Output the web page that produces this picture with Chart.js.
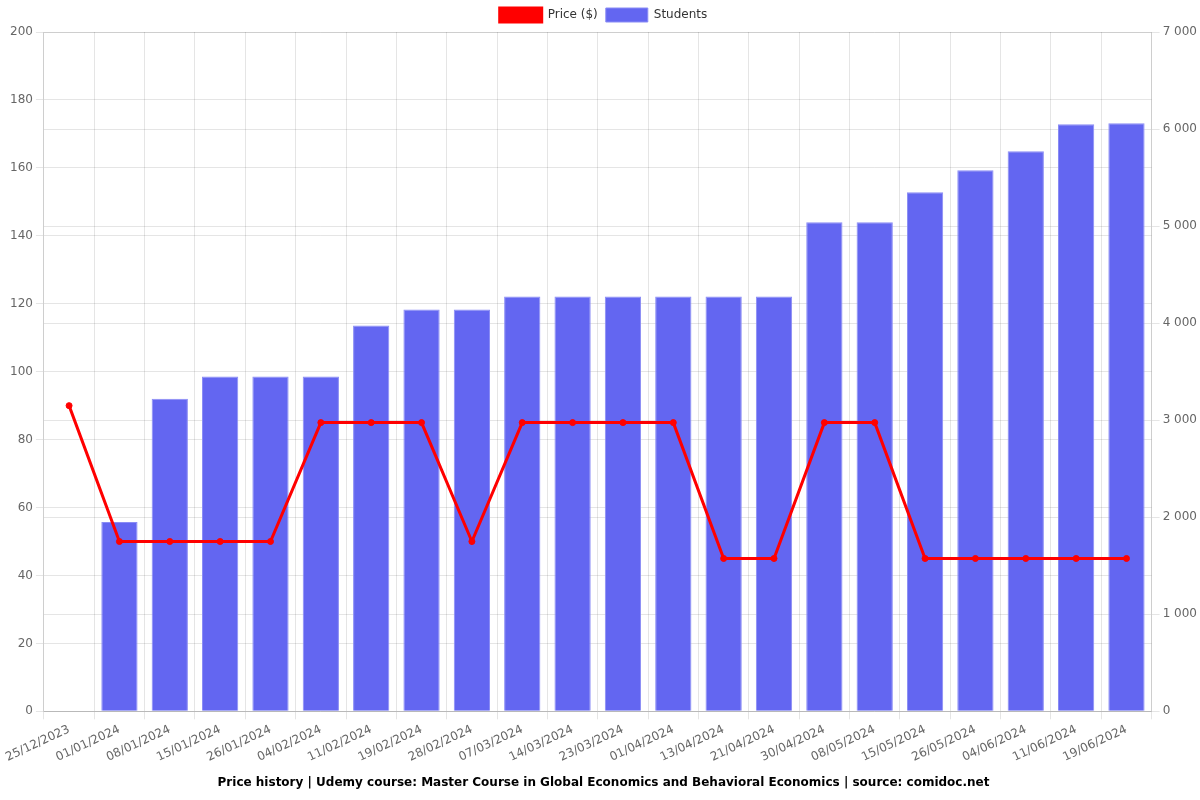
<!DOCTYPE html>
<html>
<head>
<meta charset="utf-8">
<script src="https://cdn.jsdelivr.net/npm/chart.js@4"></script>
<style>
    html, body { margin: 0; padding: 0; background: #fff; }
    #wrap { width: 1200px; height: 800px; }
</style>
</head>
<body>
<div id="wrap"><canvas id="priceChart"></canvas></div>
<script>
const dates = ['25/12/2023', '01/01/2024', '08/01/2024', '15/01/2024', '26/01/2024', '04/02/2024',
    '11/02/2024', '19/02/2024', '28/02/2024', '07/03/2024', '14/03/2024', '23/03/2024', '01/04/2024',
    '13/04/2024', '21/04/2024', '30/04/2024', '08/05/2024', '15/05/2024', '26/05/2024', '04/06/2024',
    '11/06/2024', '19/06/2024'];
const prices = [90, 50, 50, 50, 50, 85, 85, 85, 50, 85, 85, 85, 85, 45, 45, 85, 85, 45, 45, 45, 45, 45];
const students = [null, 1950, 3220, 3450, 3450, 3450, 3975, 4140, 4140, 4275, 4275, 4275, 4275,
    4275, 4275, 5040, 5040, 5350, 5575, 5770, 6050, 6060];

Chart.defaults.font.family = '"DejaVu Sans", sans-serif';
Chart.defaults.font.size = 12;
Chart.defaults.color = '#666';

const fmt = v => String(v).replace(/\B(?=(\d{3})+(?!\d))/g, ' ');

const setupChart = () => {
    const ctx = document.getElementById('priceChart')?.getContext('2d');
    if (!ctx) return;

    new Chart(ctx, {
        data: {
            labels: dates,
            datasets: [{
                type: 'line',
                label: 'Price ($)',
                data: prices,
                yAxisID: 'y',
                borderColor: '#ff0000',
                backgroundColor: '#ff0000',
                borderWidth: 3,
                pointRadius: 3,
                pointBorderWidth: 1,
                tension: 0,
                order: 0
            }, {
                type: 'bar',
                label: 'Students',
                data: students,
                yAxisID: 'y1',
                backgroundColor: '#6366f1',
                borderColor: '#8a8cf5',
                borderWidth: 1,
                order: 1
            }]
        },
        options: {
            responsive: true,
            maintainAspectRatio: false,
            animation: false,
            layout: { padding: { left: 7, right: 0, top: 0, bottom: 4 } },
            plugins: {
                legend: {
                    position: 'top',
                    labels: { boxWidth: 42, boxHeight: 14, color: '#333', padding: 8 }
                },
                title: {
                    display: true,
                    position: 'bottom',
                    text: 'Price history | Udemy course: Master Course in Global Economics and Behavioral Economics | source: comidoc.net',
                    color: '#000',
                    font: { size: 12, weight: 'bold' },
                    padding: { top: 8, bottom: 6 }
                }
            },
            scales: {
                x: {
                    ticks: { maxRotation: 25, minRotation: 25, autoSkip: false }
                },
                y: {
                    position: 'left',
                    min: 0,
                    max: 200,
                    ticks: { stepSize: 20 }
                },
                y1: {
                    position: 'right',
                    min: 0,
                    max: 7000,
                    ticks: { stepSize: 1000, callback: v => fmt(v) }
                }
            }
        }
    });
};

document.addEventListener('DOMContentLoaded', setupChart);
</script>
</body>
</html>
